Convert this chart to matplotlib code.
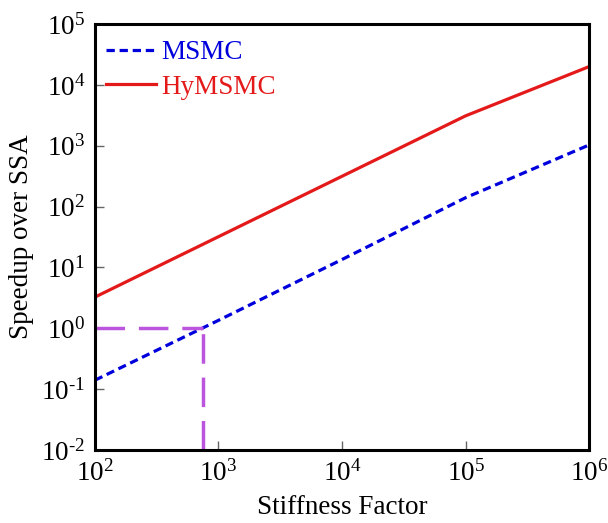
import numpy as np
import matplotlib
matplotlib.use('Agg')
import matplotlib.pyplot as plt
from matplotlib.ticker import FuncFormatter, LogLocator

plt.rcParams['font.family'] = ['Liberation Serif', 'DejaVu Serif']
plt.rcParams['mathtext.fontset'] = 'custom'
plt.rcParams['mathtext.rm'] = 'Liberation Serif'
plt.rcParams['mathtext.it'] = 'Liberation Serif:italic'

# data
stiffness = [1e2, 1e3, 1e4, 1e5, 1e6]
msmc = [0.14, 1.35, 13.5, 140, 1030]
hymsmc = [3.25, 32, 315, 3100, 20000]
crossover_x = 750
crossover_y = 1.0


def pow10(v, pos):
    e = int(round(np.log10(v)))
    if e < 0:
        return '$\\mathrm{10^{\u2010%d}}$' % (-e)
    return '$\\mathrm{10^{%d}}$' % e


fig = plt.figure(figsize=(6.08, 5.23), dpi=100)
ax = fig.add_axes([0.156, 0.1396, 0.813, 0.8144])

ax.plot(stiffness, msmc, color='#0000dd', lw=2.3, linestyle=(0, (2.6, 1.5)), label='MSMC')
ax.plot(stiffness, hymsmc, color='#e41a1a', lw=2.3, label='HyMSMC')

# break-even marker
ax.plot([1e2, crossover_x], [crossover_y, crossover_y], color='#bb55dd', lw=2.5,
        linestyle=(0, (8.5, 4)))
ax.plot([crossover_x, crossover_x], [1e-2, crossover_y], color='#bb55dd', lw=2.5,
        linestyle=(0, (8.5, 4)))

ax.set_xscale('log')
ax.set_yscale('log')
ax.set_xlim(1e2, 1e6)
ax.set_ylim(1e-2, 1e5)
ax.xaxis.set_major_locator(LogLocator(base=10, numticks=10))
ax.yaxis.set_major_locator(LogLocator(base=10, numticks=10))
ax.xaxis.set_major_formatter(FuncFormatter(pow10))
ax.yaxis.set_major_formatter(FuncFormatter(pow10))
ax.minorticks_off()

for s in ax.spines.values():
    s.set_linewidth(2.2)
ax.tick_params(direction='in', length=6.5, width=1, color='#666666',
               labelsize=19.5, pad=7, top=False, right=False)

ax.set_xlabel('Stiffness Factor', fontsize=19.5)
ax.set_ylabel('Speedup over SSA', fontsize=19.5)
ax.xaxis.set_label_coords(0.5, -0.106)
ax.yaxis.set_label_coords(-0.123, 0.5)

leg = ax.legend(loc='upper left', frameon=False, fontsize=19.5,
                handlelength=1.85, handletextpad=0.2, labelspacing=0.35,
                borderaxespad=0.3, bbox_to_anchor=(-0.016, 1.006))
for txt, line in zip(leg.get_texts(), leg.get_lines()):
    txt.set_color(line.get_color())

fig.savefig('out.png', dpi=100)
